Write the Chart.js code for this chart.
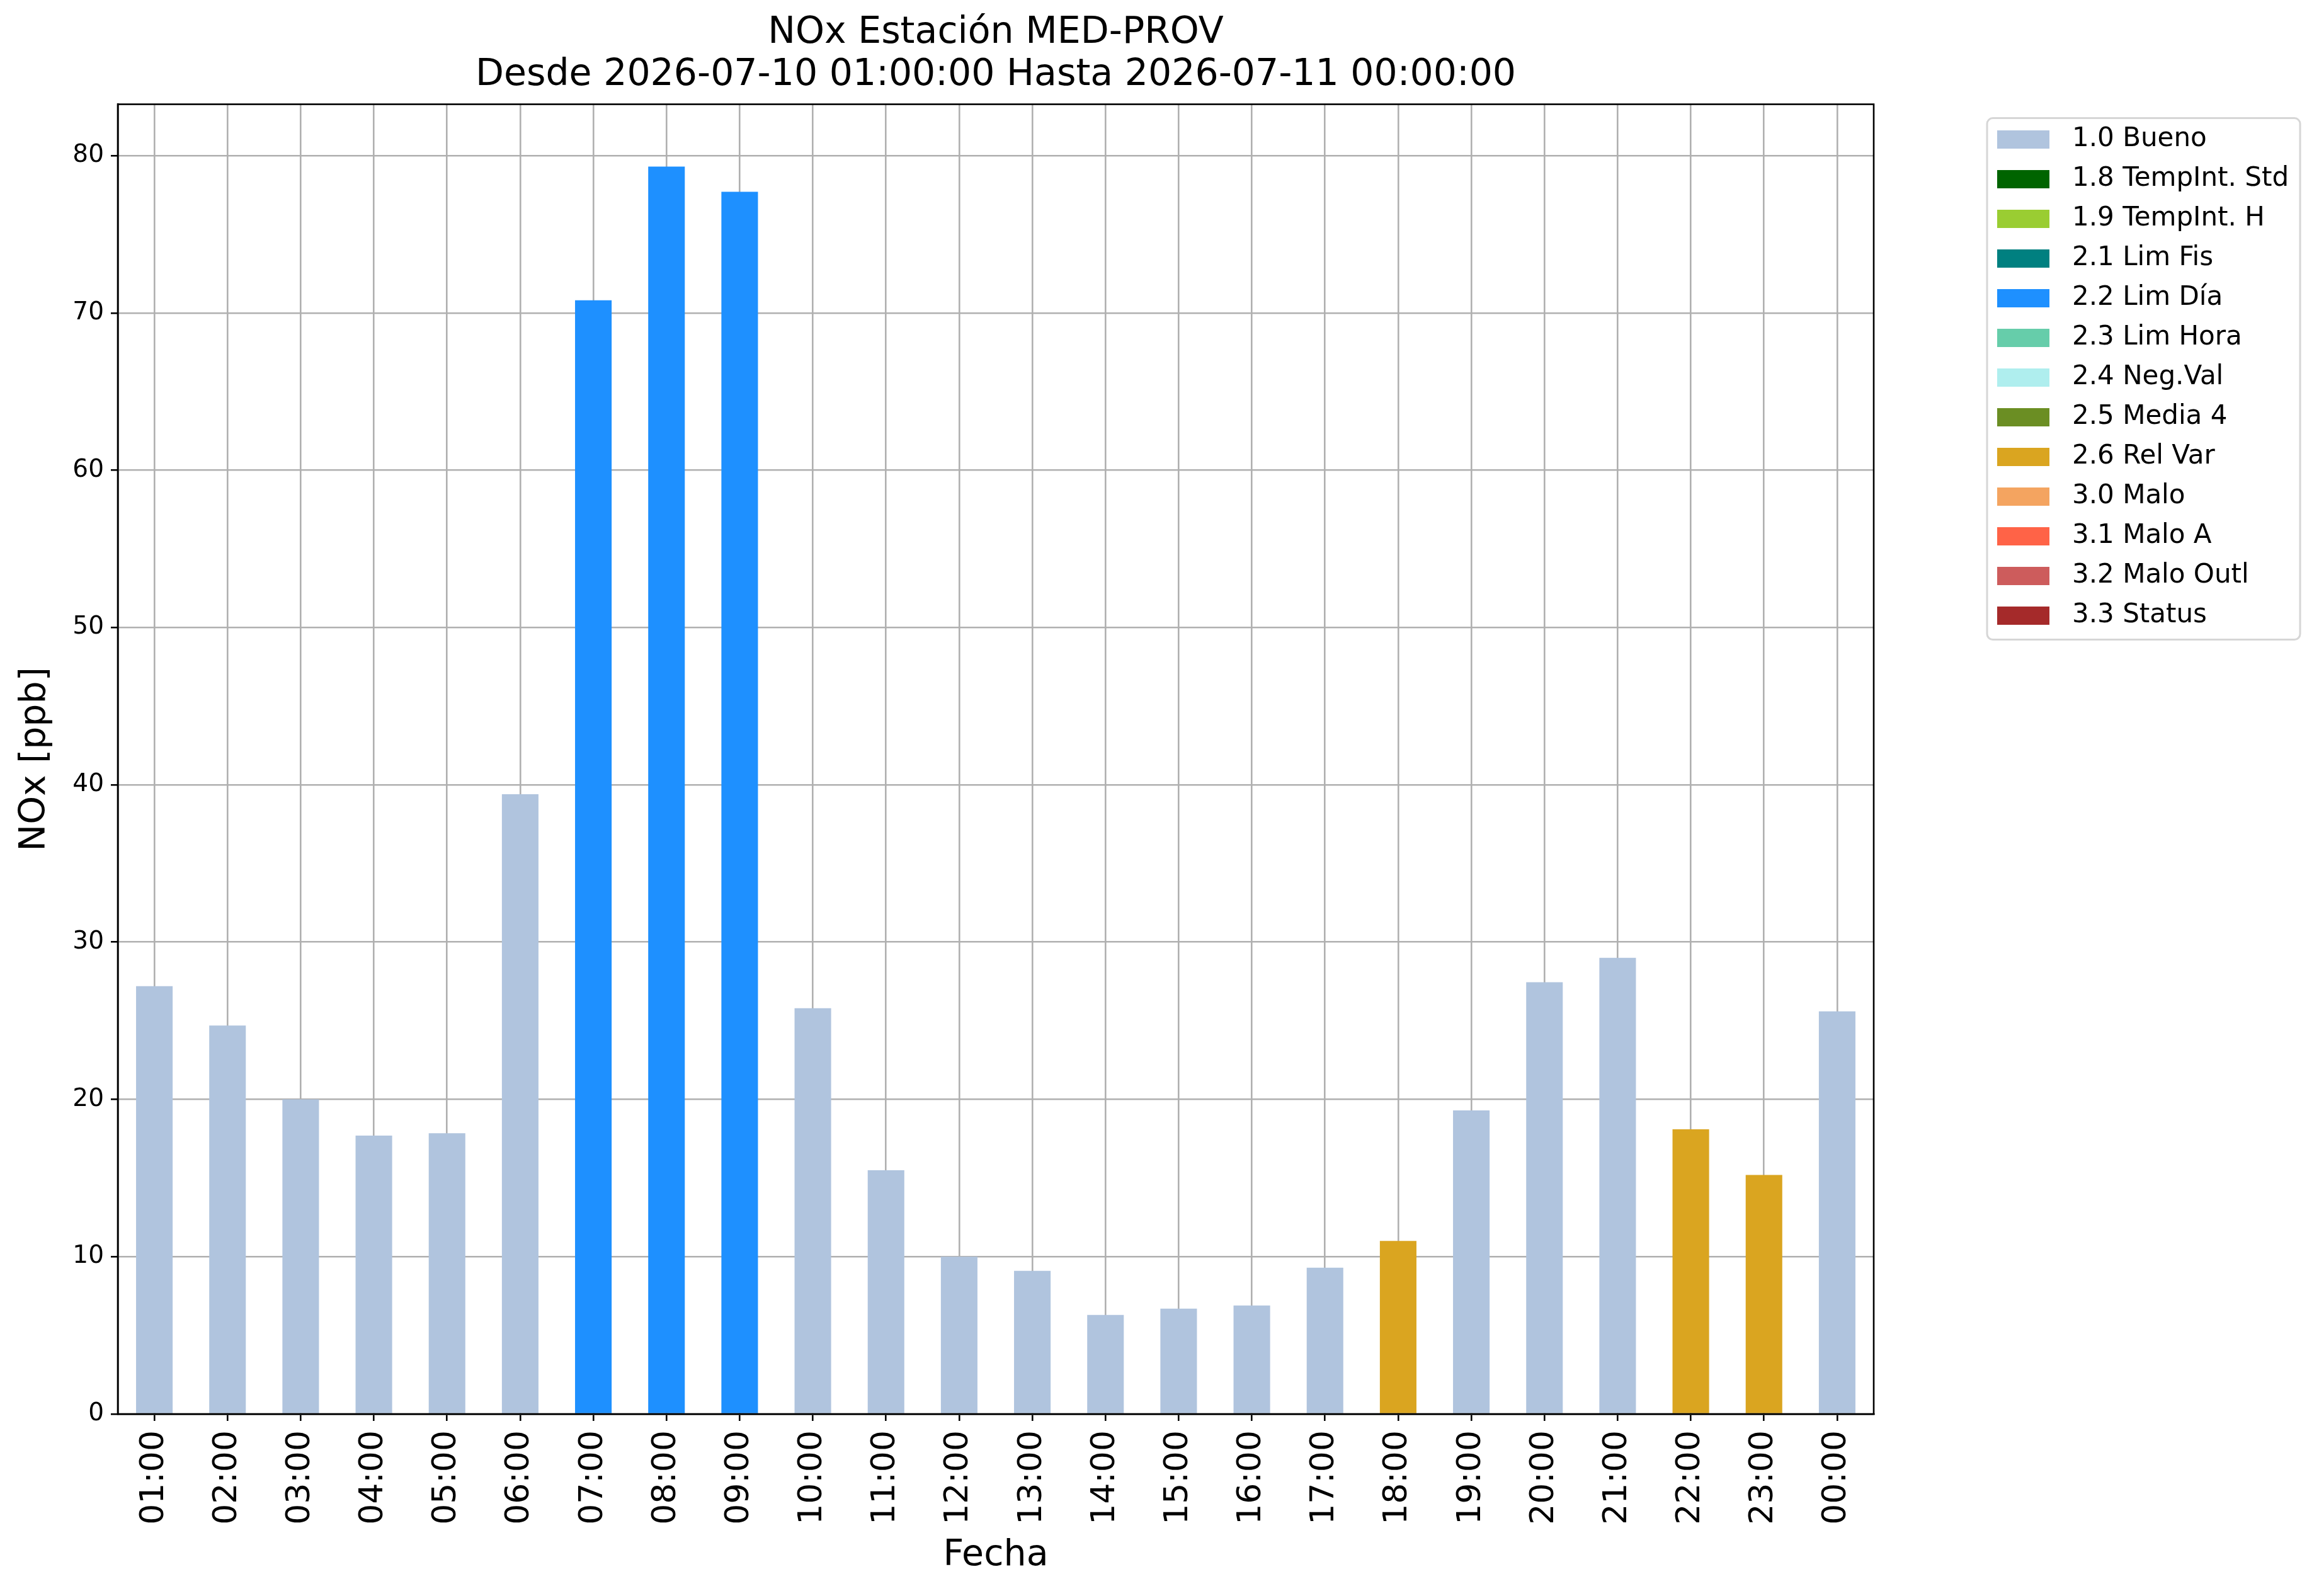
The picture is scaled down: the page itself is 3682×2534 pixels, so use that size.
<!DOCTYPE html>
<html>
<head>
<meta charset="utf-8">
<title>NOx Estación MED-PROV</title>
<script src="https://cdn.jsdelivr.net/npm/chart.js@4.4.1/dist/chart.umd.min.js"></script>
<style>
  html, body { margin: 0; padding: 0; background: #fff; }
  canvas { display: block; }
</style>
</head>
<body>
<canvas id="nox-chart" width="3682" height="2534"></canvas>
<script>
// hourly values, 2026-07-10 01:00 -> 2026-07-11 00:00
const hours = [
  "01:00", "02:00", "03:00", "04:00", "05:00", "06:00", "07:00", "08:00",
  "09:00", "10:00", "11:00", "12:00", "13:00", "14:00", "15:00", "16:00",
  "17:00", "18:00", "19:00", "20:00", "21:00", "22:00", "23:00", "00:00",
];
const noxValues = [
  27.2, 24.7, 20.0, 17.7, 17.85, 39.4, 70.8, 79.3,
  77.7, 25.8, 15.5, 10.0, 9.1, 6.3, 6.7, 6.9,
  9.3, 11.0, 19.3, 27.45, 29.0, 18.1, 15.2, 25.6,
];
// quality flag of every hour
const hourFlags = [
  "1.0", "1.0", "1.0", "1.0", "1.0", "1.0", "2.2", "2.2",
  "2.2", "1.0", "1.0", "1.0", "1.0", "1.0", "1.0", "1.0",
  "1.0", "2.6", "1.0", "1.0", "1.0", "2.6", "2.6", "1.0",
];

const flagCodes = ["1.0", "1.8", "1.9", "2.1", "2.2", "2.3", "2.4", "2.5", "2.6", "3.0", "3.1", "3.2", "3.3"];
const flagNames = ["Bueno", "TempInt. Std", "TempInt. H", "Lim Fis", "Lim Día", "Lim Hora", "Neg.Val",
  "Media 4", "Rel Var", "Malo", "Malo A", "Malo Outl", "Status"];
const flagColors = ["#B0C4DE", "#006400", "#9ACD32", "#008080", "#1E90FF", "#66CDAA", "#AFEEEE",
  "#6B8E23", "#DAA520", "#F4A460", "#FF6347", "#CD5C5C", "#A52A2A"];

Chart.defaults.font.family = '"DejaVu Sans", sans-serif';
Chart.defaults.color = "#000";

const gridColor = "#b0b0b0";
const lineW = 2.6;
const legendFont = 42;
const legendSlot = 98;   // room for the swatch + gap before the text
const legendPad = 21;

const labels = flagCodes.map((c, i) => c + " " + flagNames[i]);

// legend swatches: 83x29 patch at the left of a wider slot
const swatches = flagColors.map(col => {
  const c = document.createElement("canvas");
  c.width = legendSlot;
  c.height = 29;
  const g = c.getContext("2d");
  g.fillStyle = col;
  g.fillRect(0, 0, 83, 29);
  return c;
});

// legend width, so the plot ends where it should
const mctx = document.createElement("canvas").getContext("2d");
mctx.font = legendFont + 'px "DejaVu Sans"';
const maxText = Math.max(...labels.map(t => mctx.measureText(t).width));
const legendWidth = legendPad + legendSlot + legendFont / 2 + maxText + 10;
const padRight = 3682 - (3171 - legendPad + legendWidth);

const datasets = flagCodes.map((code, i) => ({
  label: labels[i],
  data: noxValues.map((v, h) => (hourFlags[h] === code ? v : null)),
  backgroundColor: flagColors[i],
  borderWidth: 0,
  categoryPercentage: 1.0,
  barPercentage: 0.5,
  xAxisID: "x",
  yAxisID: "y",
}));

const framePlugin = {
  id: "frame",
  afterDraw(chart) {
    const { ctx, chartArea: a, legend } = chart;
    ctx.save();
    ctx.strokeStyle = "#000";
    ctx.lineWidth = lineW;
    ctx.strokeRect(a.left, a.top, a.right - a.left, a.bottom - a.top);

    const boxes = legend.legendHitBoxes;
    const first = boxes[0];
    const last = boxes[boxes.length - 1];
    const left = first.left - 16;
    const top = first.top - 13;
    const right = first.left + 481;
    const bottom = last.top + last.height + 17;
    ctx.strokeStyle = "#d6d6d6";
    ctx.lineWidth = 3;
    ctx.beginPath();
    ctx.roundRect(left, top, right - left, bottom - top, 9);
    ctx.stroke();
    ctx.restore();
  },
};

const ctx = document.getElementById("nox-chart").getContext("2d");

new Chart(ctx, {
  type: "bar",
  data: { labels: hours, datasets },
  options: {
    responsive: false,
    animation: false,
    devicePixelRatio: 1,
    layout: { padding: { left: 0, top: 0, bottom: 0, right: padRight } },
    plugins: {
      title: {
        display: true,
        text: ["NOx Estación MED-PROV", "Desde 2026-07-10 01:00:00 Hasta 2026-07-11 00:00:00"],
        font: { size: 58.5, weight: "normal", lineHeight: 1.15 },
        color: "#000",
        padding: { top: 19, bottom: 12 },
        fullSize: false,
      },
      legend: {
        position: "right",
        align: "start",
        fullSize: false,
        title: { display: true, text: " ", font: { size: 10, lineHeight: 1.4 }, padding: 0 },
        labels: {
          usePointStyle: true,
          pointStyleWidth: legendSlot,
          boxHeight: 29,
          padding: legendPad,
          font: { size: legendFont },
          color: "#000",
          generateLabels(chart) {
            const items = Chart.defaults.plugins.legend.labels.generateLabels(chart);
            items.forEach(it => { it.pointStyle = swatches[it.datasetIndex]; });
            return items;
          },
        },
      },
      tooltip: { enabled: false },
    },
    scales: {
      x: {
        stacked: true,
        offset: true,
        z: 1,
        grid: {
          offset: false,
          color: gridColor,
          lineWidth: lineW,
          tickColor: "#000",
          tickLength: 11,
          tickWidth: lineW,
        },
        border: { color: "#000", width: lineW },
        ticks: {
          autoSkip: false,
          minRotation: 90,
          maxRotation: 90,
          padding: 15,
          font: { size: 52 },
          color: "#000",
        },
        title: {
          display: true,
          text: "Fecha",
          font: { size: 57 },
          color: "#000",
          padding: { top: 10, bottom: 30 },
        },
        afterFit(s) { s.height = 289; },
      },
      y: {
        stacked: true,
        min: 0,
        max: Math.max(...noxValues) * 1.05,
        z: 1,
        grid: {
          color: gridColor,
          lineWidth: lineW,
          tickColor: "#000",
          tickLength: 11,
          tickWidth: lineW,
        },
        border: { color: "#000", width: lineW },
        ticks: {
          stepSize: 10,
          includeBounds: false,
          padding: 11,
          font: { size: 39 },
          color: "#000",
        },
        title: {
          display: true,
          text: "NOx [ppb]",
          font: { size: 57 },
          color: "#000",
          padding: { top: 22, bottom: 0 },
        },
        afterFit(s) { s.width = 187; },
      },
      // empty space between the plot and the legend
      gap: {
        type: "linear",
        position: "right",
        display: true,
        grid: { display: false, drawTicks: false },
        border: { display: false },
        ticks: { display: false },
        afterFit(s) { s.width = 3171 - legendPad - 2975; },
      },
    },
  },
  plugins: [framePlugin],
});
</script>
</body>
</html>
